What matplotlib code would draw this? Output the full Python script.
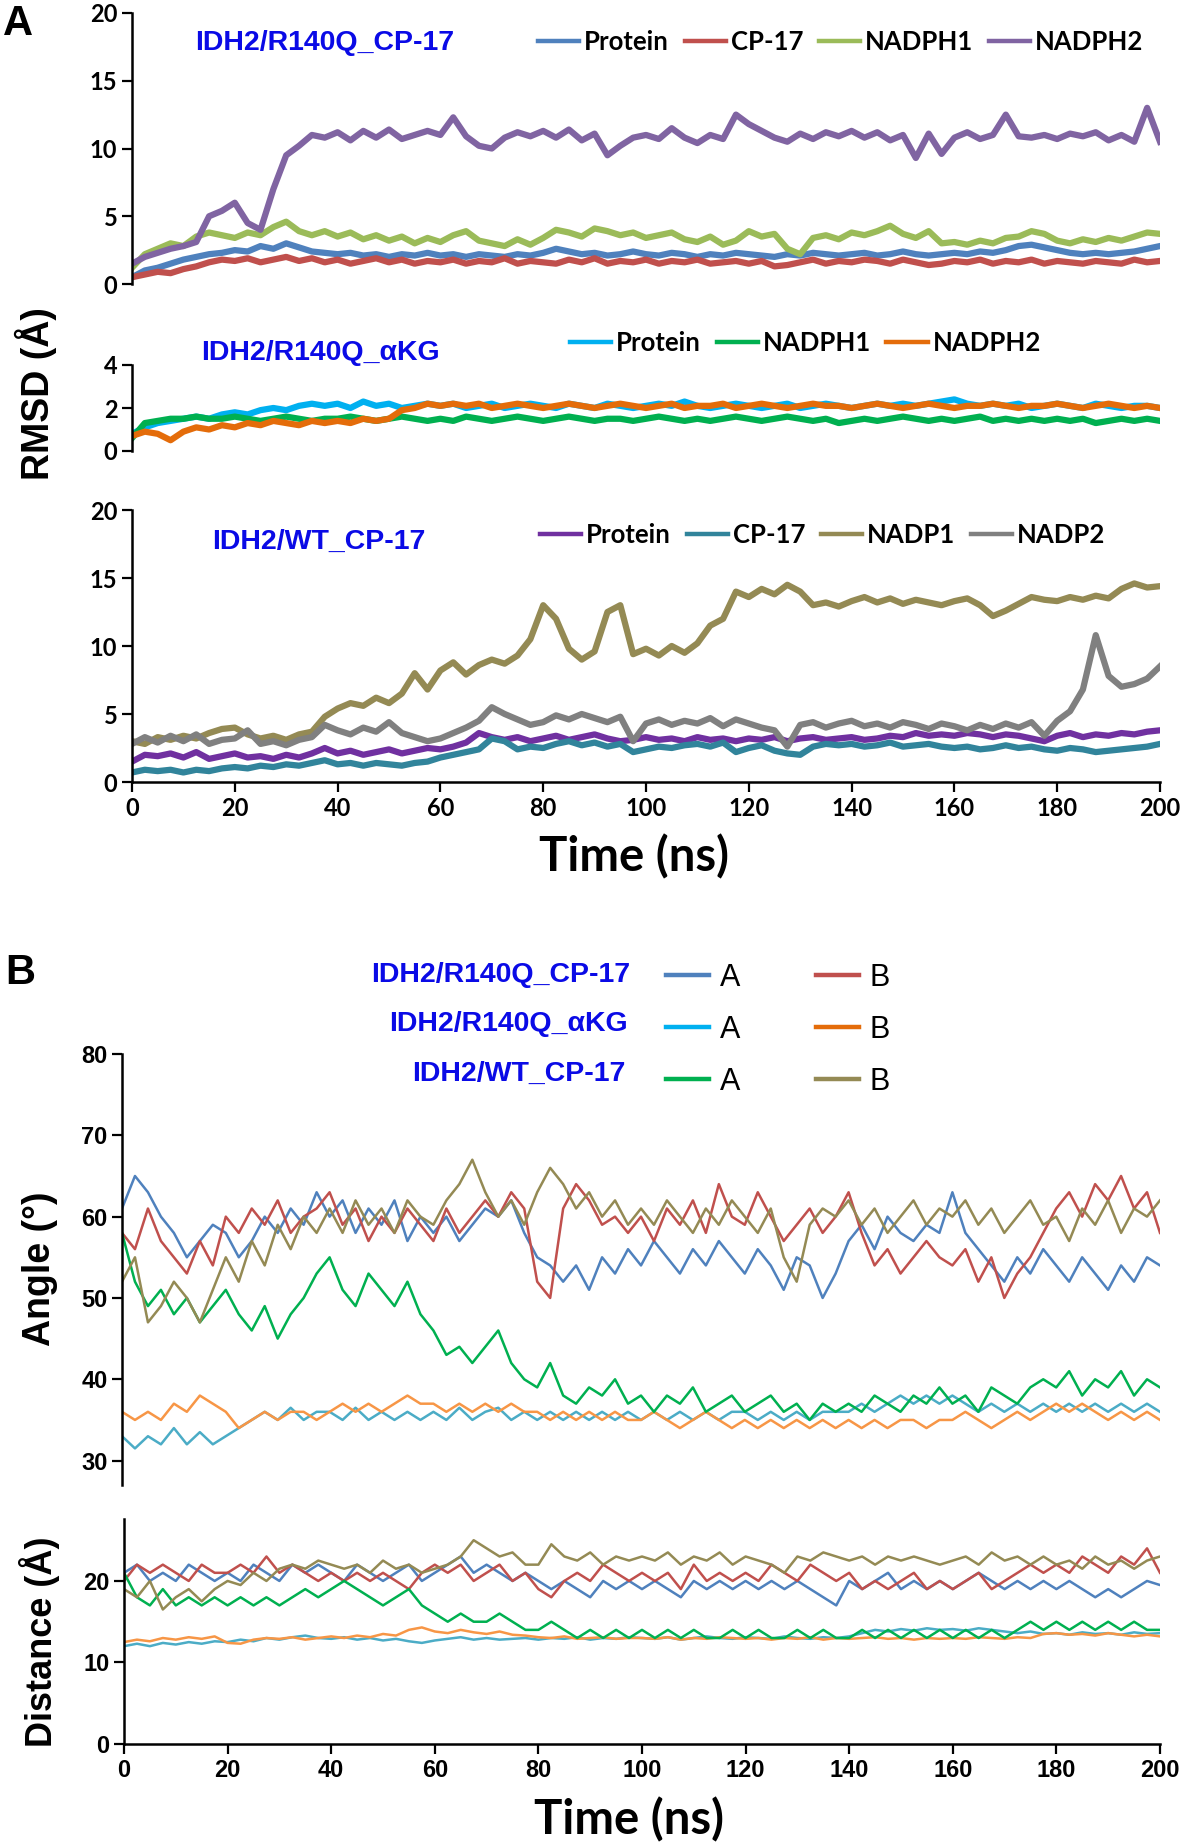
import numpy as np
import matplotlib
matplotlib.use("Agg")
import matplotlib.pyplot as plt
from matplotlib.lines import Line2D

W, H = 1181, 1846

# time axis (ns), one value every 2.5 ns
t = np.arange(0, 200.1, 2.5)

# ---- panel A, IDH2/R140Q_CP-17 RMSD ----
r140q_cp_protein = [0.5, 1.0, 1.2, 1.5, 1.8, 2.0, 2.2, 2.3,
                    2.5, 2.4, 2.8, 2.6, 3.0, 2.7, 2.4, 2.3,
                    2.2, 2.3, 2.1, 2.2, 2.0, 2.2, 2.1, 2.3,
                    2.1, 2.2, 2.0, 2.2, 2.1, 2.0, 2.2, 2.1,
                    2.3, 2.6, 2.4, 2.2, 2.3, 2.1, 2.2, 2.4,
                    2.2, 2.1, 2.3, 2.2, 2.0, 2.2, 2.1, 2.3,
                    2.2, 2.1, 2.0, 2.2, 2.1, 2.3, 2.2, 2.1,
                    2.2, 2.3, 2.1, 2.2, 2.4, 2.2, 2.1, 2.2,
                    2.3, 2.2, 2.4, 2.3, 2.5, 2.8, 2.9, 2.7,
                    2.5, 2.3, 2.2, 2.3, 2.2, 2.3, 2.4, 2.6, 2.8]
r140q_cp_cp17 = [0.5, 0.7, 0.9, 0.8, 1.1, 1.3, 1.6, 1.8,
                 1.7, 1.9, 1.6, 1.8, 2.0, 1.7, 1.9, 1.6,
                 1.8, 1.5, 1.7, 1.9, 1.6, 1.8, 1.5, 1.7,
                 1.6, 1.8, 1.5, 1.7, 1.6, 1.9, 1.5, 1.7,
                 1.6, 1.5, 1.8, 1.6, 1.9, 1.5, 1.7, 1.6,
                 1.8, 1.5, 1.7, 1.6, 1.8, 1.5, 1.6, 1.7,
                 1.5, 1.7, 1.3, 1.4, 1.6, 1.8, 1.5, 1.7,
                 1.6, 1.8, 1.7, 1.5, 1.8, 1.6, 1.4, 1.5,
                 1.7, 1.6, 1.8, 1.5, 1.7, 1.6, 1.8, 1.5,
                 1.7, 1.6, 1.5, 1.7, 1.6, 1.5, 1.8, 1.6, 1.7]
r140q_cp_nadph1 = [1.2, 2.2, 2.6, 3.0, 2.8, 3.5, 3.8, 3.6,
                   3.4, 3.8, 3.6, 4.2, 4.6, 3.9, 3.6, 3.9,
                   3.5, 3.8, 3.3, 3.6, 3.2, 3.5, 3.0, 3.4,
                   3.1, 3.6, 3.9, 3.2, 3.0, 2.8, 3.3, 2.9,
                   3.4, 4.0, 3.8, 3.5, 4.1, 3.9, 3.6, 3.8,
                   3.4, 3.6, 3.8, 3.3, 3.1, 3.5, 2.9, 3.2,
                   3.9, 3.5, 3.7, 2.6, 2.2, 3.4, 3.6, 3.3,
                   3.8, 3.6, 3.9, 4.3, 3.7, 3.4, 3.9, 3.0,
                   3.1, 2.9, 3.2, 3.0, 3.4, 3.5, 3.9, 3.7,
                   3.2, 3.0, 3.3, 3.1, 3.4, 3.2, 3.5, 3.8, 3.7]
r140q_cp_nadph2 = [1.5, 2.0, 2.3, 2.6, 2.8, 3.1, 5.0, 5.4,
                   6.0, 4.5, 4.0, 7.0, 9.5, 10.2, 11.0, 10.8,
                   11.2, 10.6, 11.3, 10.8, 11.4, 10.7, 11.0, 11.3,
                   11.0, 12.3, 10.9, 10.2, 10.0, 10.8, 11.2, 10.9,
                   11.3, 10.8, 11.4, 10.6, 11.1, 9.5, 10.2, 10.8,
                   11.0, 10.7, 11.5, 10.8, 10.4, 11.0, 10.7, 12.5,
                   11.8, 11.3, 10.8, 10.5, 11.1, 10.7, 11.2, 10.9,
                   11.3, 10.8, 11.2, 10.6, 11.0, 9.3, 11.1, 9.6,
                   10.8, 11.2, 10.7, 11.0, 12.5, 10.9, 10.8, 11.0,
                   10.7, 11.1, 10.9, 11.2, 10.6, 11.0, 10.5, 13.0, 10.5]

# ---- panel A, IDH2/R140Q_aKG RMSD ----
r140q_akg_protein = [0.8, 1.1, 1.3, 1.4, 1.5, 1.6, 1.5, 1.7,
                     1.8, 1.7, 1.9, 2.0, 1.9, 2.1, 2.2, 2.1,
                     2.2, 2.0, 2.3, 2.1, 2.2, 2.0, 2.1, 2.2,
                     2.1, 2.2, 2.0, 2.1, 2.2, 2.0, 2.1, 2.2,
                     2.1, 2.0, 2.2, 2.1, 2.0, 2.2, 2.1, 2.0,
                     2.1, 2.2, 2.1, 2.3, 2.1, 2.0, 2.1, 2.2,
                     2.1, 2.0, 2.1, 2.2, 2.0, 2.1, 2.2, 2.1,
                     2.0, 2.1, 2.2, 2.1, 2.2, 2.1, 2.2, 2.3,
                     2.4, 2.2, 2.1, 2.2, 2.1, 2.2, 2.0, 2.1,
                     2.2, 2.1, 2.0, 2.2, 2.1, 2.0, 2.1, 2.1, 2.0]
r140q_akg_nadph1 = [0.6, 1.3, 1.4, 1.5, 1.5, 1.6, 1.5, 1.5,
                    1.6, 1.5, 1.4, 1.5, 1.6, 1.5, 1.4, 1.5,
                    1.5, 1.6, 1.5, 1.4, 1.5, 1.6, 1.5, 1.4,
                    1.5, 1.4, 1.6, 1.5, 1.4, 1.5, 1.6, 1.5,
                    1.4, 1.5, 1.6, 1.5, 1.4, 1.5, 1.5, 1.4,
                    1.5, 1.6, 1.5, 1.4, 1.5, 1.4, 1.5, 1.6,
                    1.5, 1.4, 1.5, 1.6, 1.5, 1.4, 1.5, 1.3,
                    1.4, 1.5, 1.4, 1.5, 1.6, 1.5, 1.4, 1.5,
                    1.4, 1.5, 1.6, 1.4, 1.5, 1.4, 1.5, 1.4,
                    1.5, 1.4, 1.5, 1.3, 1.4, 1.5, 1.4, 1.5, 1.4]
r140q_akg_nadph2 = [0.7, 0.9, 0.8, 0.5, 0.9, 1.1, 1.0, 1.2,
                    1.1, 1.3, 1.2, 1.4, 1.3, 1.2, 1.4, 1.3,
                    1.4, 1.3, 1.5, 1.4, 1.5, 1.9, 2.0, 2.2,
                    2.1, 2.2, 2.1, 2.2, 2.0, 2.1, 2.2, 2.1,
                    2.0, 2.1, 2.2, 2.1, 2.0, 2.1, 2.2, 2.1,
                    2.0, 2.1, 2.2, 2.0, 2.1, 2.1, 2.2, 2.0,
                    2.1, 2.2, 2.1, 2.0, 2.1, 2.2, 2.1, 2.1,
                    2.0, 2.1, 2.2, 2.1, 2.0, 2.1, 2.2, 2.1,
                    2.0, 2.1, 2.1, 2.2, 2.1, 2.0, 2.1, 2.1,
                    2.2, 2.1, 2.0, 2.1, 2.2, 2.1, 2.0, 2.1, 2.0]

# ---- panel A, IDH2/WT_CP-17 RMSD ----
wt_protein = [1.5, 2.0, 1.9, 2.1, 1.8, 2.2, 1.7, 1.9,
              2.1, 1.8, 1.9, 1.7, 2.0, 1.8, 2.1, 2.5,
              2.1, 2.3, 2.0, 2.2, 2.4, 2.1, 2.3, 2.5,
              2.4, 2.6, 2.9, 3.6, 3.3, 3.1, 3.3, 3.0,
              3.2, 3.4, 3.1, 3.3, 3.5, 3.2, 3.0, 3.1,
              3.3, 3.1, 3.2, 3.0, 3.3, 3.1, 3.2, 3.0,
              3.2, 3.1, 3.3, 3.0, 3.2, 3.3, 3.1, 3.2,
              3.3, 3.1, 3.2, 3.4, 3.3, 3.6, 3.4, 3.5,
              3.4, 3.6, 3.5, 3.3, 3.5, 3.4, 3.2, 3.0,
              3.4, 3.6, 3.3, 3.5, 3.4, 3.6, 3.5, 3.7, 3.8]
wt_cp17 = [0.7, 0.9, 0.8, 0.9, 0.7, 0.9, 0.8, 1.0,
           1.1, 1.0, 1.2, 1.1, 1.3, 1.2, 1.4, 1.6,
           1.3, 1.4, 1.2, 1.4, 1.3, 1.2, 1.4, 1.5,
           1.8, 2.0, 2.2, 2.4, 3.2, 3.0, 2.4, 2.6,
           2.5, 2.8, 3.0, 2.7, 2.9, 2.6, 2.8, 2.2,
           2.4, 2.6, 2.5, 2.7, 2.8, 2.6, 2.9, 2.2,
           2.5, 2.7, 2.3, 2.1, 2.0, 2.6, 2.8, 2.7,
           2.8, 2.6, 2.7, 2.9, 2.6, 2.7, 2.8, 2.6,
           2.5, 2.6, 2.4, 2.5, 2.7, 2.5, 2.6, 2.4,
           2.3, 2.5, 2.4, 2.2, 2.3, 2.4, 2.5, 2.6, 2.8]
wt_nadp1 = [3.0, 2.8, 3.3, 3.1, 3.4, 3.2, 3.6, 3.9,
            4.0, 3.5, 3.2, 3.4, 3.1, 3.5, 3.7, 4.8,
            5.4, 5.8, 5.6, 6.2, 5.8, 6.5, 8.0, 6.8,
            8.2, 8.8, 7.9, 8.6, 9.0, 8.7, 9.3, 10.5,
            13.0, 12.0, 9.8, 9.0, 9.6, 12.5, 13.0, 9.4,
            9.8, 9.3, 10.0, 9.5, 10.2, 11.5, 12.0, 14.0,
            13.6, 14.2, 13.8, 14.5, 14.0, 13.0, 13.2, 12.9,
            13.3, 13.6, 13.2, 13.5, 13.1, 13.4, 13.2, 13.0,
            13.3, 13.5, 13.0, 12.2, 12.6, 13.1, 13.6, 13.4,
            13.3, 13.6, 13.4, 13.7, 13.5, 14.2, 14.6, 14.3, 14.4]
wt_nadp2 = [2.8, 3.3, 2.9, 3.4, 3.0, 3.5, 2.8, 3.1,
            3.2, 3.8, 2.8, 3.0, 2.7, 3.1, 3.3, 4.2,
            3.8, 3.5, 4.0, 3.7, 4.4, 3.6, 3.3, 3.0,
            3.2, 3.6, 4.0, 4.5, 5.5, 5.0, 4.6, 4.2,
            4.4, 4.9, 4.6, 5.0, 4.7, 4.4, 4.8, 3.0,
            4.3, 4.6, 4.2, 4.5, 4.3, 4.7, 4.1, 4.6,
            4.3, 4.0, 3.8, 2.6, 4.2, 4.4, 4.0, 4.3,
            4.5, 4.1, 4.3, 4.0, 4.4, 4.2, 3.9, 4.3,
            4.1, 3.8, 4.2, 3.9, 4.3, 4.0, 4.4, 3.4,
            4.5, 5.2, 6.8, 10.8, 7.8, 7.0, 7.2, 7.6, 8.5]

# ---- panel B, angle (deg) ----
ang_cp_a = [61, 65, 63, 60, 58, 55, 57, 59,
            58, 55, 57, 60, 58, 61, 59, 63,
            60, 62, 58, 61, 59, 62, 57, 60,
            58, 60, 57, 59, 61, 60, 62, 58,
            55, 54, 52, 54, 51, 55, 53, 56,
            54, 57, 55, 53, 56, 54, 57, 55,
            53, 56, 54, 51, 55, 54, 50, 53,
            57, 59, 56, 60, 58, 57, 59, 58,
            63, 58, 56, 54, 52, 55, 53, 56,
            54, 52, 55, 53, 51, 54, 52, 55, 54]
ang_cp_b = [58, 56, 61, 57, 55, 53, 57, 54,
            60, 58, 61, 59, 62, 58, 60, 61,
            63, 59, 61, 57, 60, 58, 61, 59,
            57, 61, 58, 60, 62, 60, 63, 61,
            52, 50, 61, 64, 62, 59, 60, 58,
            60, 57, 61, 59, 62, 58, 64, 60,
            59, 63, 60, 57, 59, 61, 58, 60,
            63, 58, 54, 56, 53, 55, 57, 55,
            54, 56, 52, 55, 50, 53, 55, 58,
            61, 63, 60, 64, 62, 65, 61, 63, 58]
ang_akg_a = [33, 31.5, 33, 32, 34, 32, 33.5, 32,
             33, 34, 35, 36, 35, 36.5, 35, 36,
             36, 35, 36.5, 35, 36, 35, 36, 35,
             36, 35, 36.5, 35, 36, 36.5, 35, 36,
             35, 36, 35, 36, 35, 36, 35, 36,
             35, 36, 35, 36, 35, 36, 35, 36,
             36, 35, 36, 35, 36, 35, 36, 36,
             36, 37, 36, 37, 38, 37, 38, 37,
             38, 37, 36, 37, 36, 37, 36, 37,
             36, 37, 36, 37, 36, 37, 36, 37, 36]
ang_akg_b = [36, 35, 36, 35, 37, 36, 38, 37,
             36, 34, 35, 36, 35, 36, 36, 35,
             36, 37, 36, 37, 36, 37, 38, 37,
             37, 36, 37, 36, 37, 36, 37, 36,
             36, 35, 36, 35, 36, 35, 36, 35,
             35, 36, 35, 34, 35, 36, 35, 34,
             35, 34, 35, 34, 35, 34, 35, 34,
             35, 34, 35, 34, 35, 35, 34, 35,
             35, 36, 35, 34, 35, 36, 35, 36,
             37, 36, 37, 36, 35, 36, 35, 36, 35]
ang_wt_a = [58, 52, 49, 51, 48, 50, 47, 49,
            51, 48, 46, 49, 45, 48, 50, 53,
            55, 51, 49, 53, 51, 49, 52, 48,
            46, 43, 44, 42, 44, 46, 42, 40,
            39, 42, 38, 37, 39, 38, 40, 37,
            38, 36, 38, 37, 39, 36, 37, 38,
            36, 37, 38, 36, 37, 35, 37, 36,
            37, 36, 38, 37, 36, 38, 37, 39,
            37, 38, 36, 39, 38, 37, 39, 40,
            39, 41, 38, 40, 39, 41, 38, 40, 39]
ang_wt_b = [52, 55, 47, 49, 52, 50, 47, 51,
            55, 52, 57, 54, 59, 56, 60, 58,
            61, 58, 62, 59, 61, 58, 62, 60,
            59, 62, 64, 67, 63, 60, 62, 59,
            63, 66, 64, 61, 63, 60, 62, 59,
            61, 59, 62, 60, 58, 61, 59, 62,
            60, 58, 61, 55, 52, 59, 61, 60,
            62, 59, 61, 58, 60, 62, 59, 61,
            60, 62, 59, 61, 58, 60, 62, 59,
            60, 57, 61, 59, 62, 58, 61, 60, 62]

# ---- panel B, distance (A) ----
dist_cp_a = [21, 22, 20, 21, 20, 22, 21, 20,
             21, 20, 22, 21, 20, 22, 21, 22,
             21, 20, 22, 21, 20, 21, 22, 20,
             21, 22, 23, 21, 22, 21, 20, 21,
             20, 19, 20, 19, 18, 20, 19, 20,
             19, 20, 19, 18, 20, 19, 20, 19,
             20, 19, 20, 19, 20, 19, 18, 17,
             20, 19, 20, 21, 19, 20, 19, 20,
             19, 20, 21, 20, 19, 20, 19, 20,
             19, 20, 19, 18, 19, 18, 19, 20, 19.5]
dist_cp_b = [20, 22, 21, 22, 21, 20, 22, 21,
             21, 22, 21, 23, 21, 22, 21, 20,
             21, 20, 21, 20, 21, 20, 19, 21,
             22, 21, 22, 20, 21, 22, 20, 21,
             19, 18, 20, 21, 20, 22, 21, 20,
             21, 20, 21, 19, 22, 20, 21, 20,
             21, 20, 22, 21, 20, 22, 21, 20,
             21, 19, 20, 19, 20, 21, 19, 20,
             19, 20, 21, 19, 20, 21, 22, 21,
             22, 21, 23, 22, 21, 23, 22, 24, 21]
dist_akg_a = [12, 12.3, 12, 12.4, 12.2, 12.5, 12.3, 12.6,
              12.5, 12.8, 12.6, 13, 12.8, 13.1, 13.3, 13,
              12.9, 13.1, 12.8, 13, 12.7, 12.9, 12.6, 12.4,
              12.7, 12.9, 13.1, 12.8, 13, 12.8, 12.9, 13,
              12.8, 13, 12.9, 13.1, 12.8, 13, 12.9, 13.1,
              13, 12.9, 13.1, 12.8, 13, 13.2, 13, 12.9,
              13.1, 13, 12.9, 13.2, 13, 12.9, 13.1, 13,
              13.2, 13.6, 14, 13.8, 14.1, 13.9, 14.2, 14,
              14.1, 13.9, 14.2, 14, 13.8, 13.6, 13.8, 13.5,
              13.6, 13.4, 13.7, 13.5, 13.6, 13.4, 13.7, 13.5, 13.6]
dist_akg_b = [12.5, 12.8, 12.6, 13, 12.8, 13.1, 12.9, 13.2,
              12.4, 12.3, 12.8, 13, 12.9, 13.1, 12.8, 13,
              13.2, 13, 13.3, 13.1, 13.5, 13.3, 14, 14.3,
              13.8, 13.6, 14, 13.7, 13.5, 13.8, 13.4, 13.3,
              13.1, 13, 13.2, 12.9, 13, 13.1, 12.9, 13,
              13, 12.9, 13.1, 12.8, 13, 12.9, 13.1, 13,
              12.9, 13, 12.8, 13, 12.9, 13.1, 12.8, 13,
              12.9, 13, 13.1, 12.9, 13, 12.8, 13, 12.9,
              13, 12.9, 13.1, 13, 12.9, 13.1, 13, 13.5,
              13.6, 13.4, 13.5, 13.3, 13.6, 13.4, 13.2, 13.4, 13.2]
dist_wt_a = [21, 18, 17, 19, 17, 18, 17, 18,
             17, 18, 17, 18, 17, 18, 19, 18,
             19, 20, 19, 18, 17, 18, 19, 17,
             16, 15, 16, 15, 15, 16, 15, 14,
             14, 15, 14, 13, 14, 13, 14, 13,
             14, 13, 14, 13, 14, 13, 13, 14,
             13, 14, 13, 13, 14, 13, 14, 13,
             13, 14, 13, 14, 13, 14, 13, 14,
             13, 14, 13, 14, 13, 14, 15, 14,
             15, 14, 15, 14, 15, 14, 15, 14, 14]
dist_wt_b = [19, 18, 20, 16.5, 18, 19, 17.5, 19,
             20, 19.5, 21, 20, 21.5, 22, 21.5, 22.5,
             22, 21.5, 22, 21, 22.5, 21.5, 22, 21,
             21.5, 22, 23, 25, 24, 23, 23.5, 22,
             22, 24.5, 23, 22.5, 23.5, 22, 23, 22.5,
             23, 22.5, 23.5, 22, 23, 22.5, 23.5, 22,
             23, 22.5, 22, 21, 23, 22.5, 23.5, 23,
             22.5, 23, 22, 23, 22.5, 23, 22.5, 22,
             22.5, 23, 22, 23.5, 22.5, 23, 22, 23,
             22, 22.5, 21.5, 23, 22, 22.5, 21.5, 22.5, 23]

# colours
c_blue, c_red, c_lgreen, c_purple = "#4F81BD", "#C0504D", "#9BBB59", "#8064A2"
c_cyan, c_green, c_dorange = "#00B0F0", "#00B050", "#E46C0A"
c_vio, c_teal, c_olive, c_grey = "#7030A0", "#31849B", "#948A54", "#808080"
c_lblue, c_orange = "#4BACC6", "#F79646"
title_blue = "#0A0AE6"

calibri = ["Lato", "DejaVu Sans"]
arial = ["Liberation Sans", "DejaVu Sans"]


def fx(px):
    return px / W


def fy(py):
    return 1 - py / H


def style_axes(ax, bottom, family, tsize=17):
    for s in ["top", "right"]:
        ax.spines[s].set_visible(False)
    ax.spines["left"].set_linewidth(1.8)
    ax.spines["bottom"].set_linewidth(1.8)
    ax.spines["bottom"].set_visible(bottom)
    ax.tick_params(direction="out", length=7, width=1.6)
    if not bottom:
        ax.tick_params(axis="x", bottom=False, labelbottom=False)
    for lab in ax.get_xticklabels() + ax.get_yticklabels():
        lab.set_family(family)
        lab.set_fontweight("bold")
        lab.set_fontsize(tsize)
    ax.set_xlim(0, 200)


fig = plt.figure(figsize=(W / 100, H / 100), dpi=100)

# ---------------- panel A ----------------
axA1 = fig.add_axes([fx(132), fy(284), fx(1160 - 132), (284 - 13) / H])
axA2 = fig.add_axes([fx(132), fy(451), fx(1160 - 132), (451 - 365) / H])
axA3 = fig.add_axes([fx(132), fy(782), fx(1160 - 132), (782 - 510) / H])

lwA = 4.5
l1 = axA1.plot(t, r140q_cp_protein, color=c_blue, lw=lwA, label="Protein")[0]
l2 = axA1.plot(t, r140q_cp_cp17, color=c_red, lw=lwA, label="CP-17")[0]
l3 = axA1.plot(t, r140q_cp_nadph1, color=c_lgreen, lw=lwA, label="NADPH1")[0]
l4 = axA1.plot(t, r140q_cp_nadph2, color=c_purple, lw=lwA, label="NADPH2")[0]
axA1.set_ylim(0, 20)
axA1.set_yticks([0, 5, 10, 15, 20])

m1 = axA2.plot(t, r140q_akg_protein, color=c_cyan, lw=lwA, label="Protein")[0]
m2 = axA2.plot(t, r140q_akg_nadph1, color=c_green, lw=lwA, label="NADPH1")[0]
m3 = axA2.plot(t, r140q_akg_nadph2, color=c_dorange, lw=lwA, label="NADPH2")[0]
axA2.set_ylim(0, 4)
axA2.set_yticks([0, 2, 4])

n1 = axA3.plot(t, wt_protein, color=c_vio, lw=lwA, label="Protein")[0]
n2 = axA3.plot(t, wt_cp17, color=c_teal, lw=lwA, label="CP-17")[0]
n3 = axA3.plot(t, wt_nadp1, color=c_olive, lw=lwA, label="NADP1")[0]
n4 = axA3.plot(t, wt_nadp2, color=c_grey, lw=lwA, label="NADP2")[0]
axA3.set_ylim(0, 20)
axA3.set_yticks([0, 5, 10, 15, 20])
axA3.set_xticks(np.arange(0, 201, 20))

style_axes(axA1, False, calibri)
style_axes(axA2, False, calibri)
style_axes(axA3, True, calibri)

leg_font = {"family": calibri, "weight": "bold", "size": 18.5}
for ax, hs, x0, y0 in [(axA1, [l1, l2, l3, l4], 538, 42),
                       (axA2, [m1, m2, m3], 570, 343),
                       (axA3, [n1, n2, n3, n4], 540, 535)]:
    lg = ax.legend(handles=hs, ncol=len(hs), loc="center left",
                   bbox_to_anchor=(fx(x0), fy(y0)), bbox_transform=fig.transFigure,
                   frameon=False, prop=leg_font, handlelength=1.6,
                   handletextpad=0.2, columnspacing=0.6, borderpad=0, borderaxespad=0)
    for ln in lg.get_lines():
        ln.set_linewidth(3.2)

for txt, x0, y0 in [("IDH2/R140Q_CP-17", 195, 43), ("IDH2/R140Q_αKG", 201, 353),
                    ("IDH2/WT_CP-17", 212, 542)]:
    fig.text(fx(x0), fy(y0), txt, color=title_blue, family=arial,
             weight="bold", fontsize=20.5, ha="left", va="center")

fig.text(fx(3), fy(24), "A", family=arial, weight="bold", fontsize=30,
         ha="left", va="center")
fig.text(fx(36), fy(394), "RMSD (Å)", family=arial, weight="bold",
         fontsize=27, rotation=90, ha="center", va="center")
fig.text(fx(634), fy(857), "Time (ns)", family=calibri, weight="bold",
         fontsize=34, ha="center", va="center")

# ---------------- panel B ----------------
axB1 = fig.add_axes([fx(122), fy(1485), fx(1160 - 122), (1485 - 1054) / H])
axB2 = fig.add_axes([fx(124), fy(1744), fx(1160 - 124), (1744 - 1519) / H])

lwB = 1.8
series_b = [(ang_cp_a, dist_cp_a, c_blue), (ang_cp_b, dist_cp_b, c_red),
            (ang_akg_a, dist_akg_a, c_lblue), (ang_akg_b, dist_akg_b, c_orange),
            (ang_wt_a, dist_wt_a, c_green), (ang_wt_b, dist_wt_b, c_olive)]
for ang, dist, col in series_b:
    axB1.plot(t, ang, color=col, lw=lwB)
    axB2.plot(t, dist, color=col, lw=lwB)

axB1.set_ylim(27, 80)
axB1.set_yticks([30, 40, 50, 60, 70, 80])
axB2.set_ylim(0, 27.6)
axB2.set_yticks([0, 10, 20])
axB2.set_xticks(np.arange(0, 201, 20))
style_axes(axB1, False, arial)
style_axes(axB2, True, arial)

hB = [Line2D([], [], color=c, lw=3.2) for c in
      [c_blue, c_cyan, c_green, c_red, c_dorange, c_olive]]
axB1.legend(handles=hB, labels=["A", "A", "A", "B", "B", "B"], ncol=2,
            loc="upper left", bbox_to_anchor=(fx(666), fy(963)),
            bbox_transform=fig.transFigure, frameon=False,
            prop={"family": arial, "size": 22}, handlelength=1.4,
            handletextpad=0.35, columnspacing=2.5, labelspacing=0.72,
            borderpad=0, borderaxespad=0)

for txt, x0, y0 in [("IDH2/R140Q_CP-17", 630, 975), ("IDH2/R140Q_αKG", 628, 1024),
                    ("IDH2/WT_CP-17", 626, 1074)]:
    fig.text(fx(x0), fy(y0), txt, color=title_blue, family=arial,
             weight="bold", fontsize=20.5, ha="right", va="center")

fig.text(fx(5), fy(973), "B", family=arial, weight="bold", fontsize=30,
         ha="left", va="center")
fig.text(fx(40), fy(1269), "Angle (°)", family=arial, weight="bold",
         fontsize=27, rotation=90, ha="center", va="center")
fig.text(fx(40), fy(1642), "Distance (Å)", family=arial, weight="bold",
         fontsize=26, rotation=90, ha="center", va="center")
fig.text(fx(629), fy(1820), "Time (ns)", family=calibri, weight="bold",
         fontsize=34, ha="center", va="center")

fig.savefig("out.png", dpi=100)
